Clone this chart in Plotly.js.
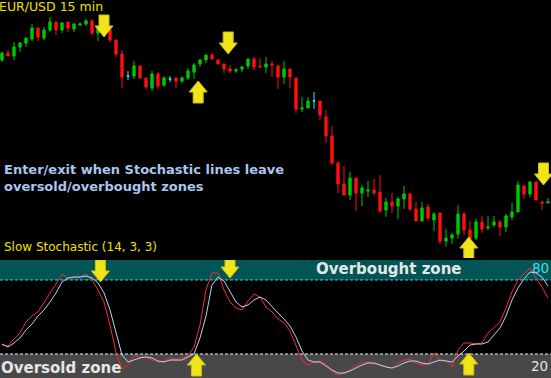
<!DOCTYPE html>
<html>
<head>
<meta charset="utf-8">
<script src="https://cdn.plot.ly/plotly-3.0.1.min.js"></script>
<style>
  html, body { margin: 0; padding: 0; background: #000; }
  #chart { width: 551px; height: 378px; }
</style>
</head>
<body>
<div id="chart"></div>
<script>
// EUR/USD, 15-minute bars
const open = [
  1.3590, 1.3597, 1.3594, 1.3603, 1.3607, 1.3611, 1.3622, 1.3612, 1.3620, 1.3628,
  1.3620, 1.3628, 1.3621, 1.3625, 1.3626, 1.3629, 1.3617, 1.3621, 1.3620, 1.3610,
  1.3596, 1.3574, 1.3574, 1.3584, 1.3572, 1.3562, 1.3576, 1.3565, 1.3571, 1.3572,
  1.3569, 1.3572, 1.3578, 1.3586, 1.3590, 1.3595, 1.3590, 1.3586, 1.3581, 1.3579,
  1.3581, 1.3584, 1.3591, 1.3584, 1.3583, 1.3586, 1.3584, 1.3573, 1.3581, 1.3572,
  1.3541, 1.3542, 1.3549, 1.3549, 1.3533, 1.3514, 1.3487, 1.3466, 1.3455, 1.3472,
  1.3457, 1.3459, 1.3460, 1.3458, 1.3440, 1.3448, 1.3444, 1.3451, 1.3456, 1.3441,
  1.3429, 1.3443, 1.3430, 1.3437, 1.3409, 1.3412, 1.3416, 1.3436, 1.3420, 1.3412,
  1.3428, 1.3422, 1.3425, 1.3428, 1.3423, 1.3433, 1.3438, 1.3464, 1.3456, 1.3468,
  1.3448, 1.3447
];
const high = [
  1.3598, 1.3600, 1.3608, 1.3608, 1.3612, 1.3626, 1.3622, 1.3623, 1.3633, 1.3628,
  1.3628, 1.3628, 1.3627, 1.3628, 1.3631, 1.3631, 1.3623, 1.3624, 1.3620, 1.3610,
  1.3600, 1.3579, 1.3589, 1.3585, 1.3572, 1.3579, 1.3578, 1.3574, 1.3574, 1.3572,
  1.3574, 1.3582, 1.3587, 1.3591, 1.3595, 1.3597, 1.3591, 1.3586, 1.3585, 1.3582,
  1.3584, 1.3591, 1.3593, 1.3592, 1.3593, 1.3589, 1.3585, 1.3589, 1.3581, 1.3572,
  1.3553, 1.3553, 1.3558, 1.3549, 1.3540, 1.3524, 1.3489, 1.3484, 1.3478, 1.3472,
  1.3465, 1.3469, 1.3471, 1.3475, 1.3452, 1.3457, 1.3453, 1.3464, 1.3457, 1.3448,
  1.3448, 1.3446, 1.3438, 1.3437, 1.3421, 1.3417, 1.3445, 1.3438, 1.3429, 1.3431,
  1.3434, 1.3434, 1.3434, 1.3430, 1.3436, 1.3447, 1.3469, 1.3465, 1.3469, 1.3468,
  1.3449, 1.3452
];
const low = [
  1.3588, 1.3594, 1.3590, 1.3598, 1.3603, 1.3609, 1.3609, 1.3610, 1.3618, 1.3615,
  1.3617, 1.3618, 1.3618, 1.3624, 1.3624, 1.3615, 1.3609, 1.3616, 1.3608, 1.3593,
  1.3562, 1.3570, 1.3571, 1.3571, 1.3561, 1.3559, 1.3561, 1.3563, 1.3568, 1.3562,
  1.3567, 1.3570, 1.3571, 1.3583, 1.3587, 1.3591, 1.3586, 1.3577, 1.3577, 1.3577,
  1.3578, 1.3581, 1.3580, 1.3583, 1.3577, 1.3573, 1.3561, 1.3566, 1.3562, 1.3537,
  1.3538, 1.3542, 1.3541, 1.3530, 1.3507, 1.3485, 1.3457, 1.3455, 1.3450, 1.3439,
  1.3444, 1.3453, 1.3455, 1.3437, 1.3433, 1.3437, 1.3431, 1.3441, 1.3439, 1.3429,
  1.3429, 1.3429, 1.3419, 1.3406, 1.3403, 1.3406, 1.3411, 1.3415, 1.3408, 1.3410,
  1.3417, 1.3420, 1.3423, 1.3414, 1.3418, 1.3430, 1.3438, 1.3451, 1.3453, 1.3450,
  1.3440, 1.3447
];
const close = [
  1.3597, 1.3594, 1.3603, 1.3607, 1.3612, 1.3622, 1.3613, 1.3620, 1.3628, 1.3620,
  1.3627, 1.3622, 1.3626, 1.3626, 1.3629, 1.3617, 1.3621, 1.3619, 1.3610, 1.3596,
  1.3573, 1.3574, 1.3584, 1.3572, 1.3563, 1.3576, 1.3564, 1.3572, 1.3571, 1.3569,
  1.3572, 1.3579, 1.3585, 1.3590, 1.3595, 1.3591, 1.3586, 1.3581, 1.3579, 1.3580,
  1.3583, 1.3591, 1.3583, 1.3583, 1.3586, 1.3585, 1.3573, 1.3581, 1.3573, 1.3541,
  1.3542, 1.3549, 1.3549, 1.3535, 1.3514, 1.3487, 1.3466, 1.3455, 1.3472, 1.3457,
  1.3462, 1.3460, 1.3457, 1.3439, 1.3448, 1.3444, 1.3451, 1.3456, 1.3441, 1.3429,
  1.3442, 1.3432, 1.3436, 1.3409, 1.3412, 1.3415, 1.3436, 1.3420, 1.3411, 1.3428,
  1.3421, 1.3423, 1.3428, 1.3423, 1.3434, 1.3438, 1.3465, 1.3456, 1.3468, 1.3450,
  1.3447, 1.3448
];

// Slow Stochastic (14, 3, 3): %K and %D
const stochK = [
  27.3, 26.5, 32.2, 37.0, 45.9, 50.8, 54.1, 61.4, 69.5, 76.8,
  84.9, 81.6, 82.4, 82.4, 84.9, 80.0, 71.9, 62.2, 43.5, 21.6,
  7.8, 11.1, 18.4, 17.6, 17.6, 15.1, 13.5, 14.3, 16.8, 15.9,
  16.8, 18.4, 25.7, 43.5, 71.9, 85.7, 85.7, 71.9, 62.2, 57.3,
  55.7, 63.0, 68.6, 66.2, 58.1, 54.1, 48.4, 45.1, 38.6, 27.3,
  15.1, 11.1, 13.5, 14.3, 11.9, 6.2, 3.0, 4.6, 7.0, 10.3,
  13.5, 13.5, 11.9, 11.1, 9.5, 8.6, 12.7, 15.1, 15.9, 12.7,
  11.1, 11.9, 20.8, 14.3, 15.1, 9.5, 23.2, 28.9, 28.9, 28.1,
  28.9, 37.0, 41.1, 45.9, 57.3, 70.3, 80.0, 84.9, 89.7, 81.6,
  74.3, 65.4
];
const stochD = [
  28.1, 25.7, 28.9, 33.0, 39.5, 44.3, 50.8, 55.7, 62.2, 69.5,
  78.4, 81.6, 82.4, 82.4, 83.2, 81.6, 77.6, 69.5, 55.7, 37.8,
  19.2, 13.5, 15.1, 16.8, 17.6, 16.8, 14.3, 13.5, 15.1, 15.1,
  15.1, 17.6, 20.0, 33.0, 50.8, 76.0, 82.4, 79.2, 70.3, 62.2,
  58.1, 59.7, 63.8, 66.2, 63.8, 58.1, 53.2, 48.4, 42.7, 33.8,
  22.4, 15.1, 13.5, 13.5, 10.3, 7.0, 4.6, 4.6, 6.2, 8.6,
  11.1, 12.7, 12.7, 11.1, 9.5, 8.6, 10.3, 12.7, 14.3, 14.3,
  12.7, 11.9, 13.5, 15.1, 14.3, 13.5, 18.4, 22.4, 27.3, 28.1,
  28.1, 29.7, 35.4, 41.1, 50.8, 63.8, 73.5, 80.8, 86.5, 85.7,
  82.4, 75.1
];

const overbought = 80;
const oversold = 20;

const bars = open.map((_, i) => i);
const isDoji = i => open[i] === close[i];
const pick = (arr, idx) => idx.map(i => arr[i]);
const bodyIdx = bars.filter(i => !isDoji(i));
const dojiIdx = bars.filter(isDoji);

const GREEN = '#00c800', RED = '#ff1010', CYAN = '#30e8f0';

const candles = {
  type: 'candlestick', xaxis: 'x', yaxis: 'y',
  x: bodyIdx, open: pick(open, bodyIdx), high: pick(high, bodyIdx),
  low: pick(low, bodyIdx), close: pick(close, bodyIdx),
  increasing: { line: { color: GREEN, width: 1 }, fillcolor: GREEN },
  decreasing: { line: { color: RED, width: 1 }, fillcolor: RED },
  hoverinfo: 'skip'
};
const dojis = {
  type: 'candlestick', xaxis: 'x', yaxis: 'y',
  x: dojiIdx, open: pick(open, dojiIdx), high: pick(high, dojiIdx),
  low: pick(low, dojiIdx), close: pick(close, dojiIdx),
  increasing: { line: { color: CYAN, width: 1 }, fillcolor: CYAN },
  decreasing: { line: { color: CYAN, width: 1 }, fillcolor: CYAN },
  hoverinfo: 'skip'
};
const kLine = {
  type: 'scatter', mode: 'lines', xaxis: 'x2', yaxis: 'y2',
  x: bars, y: stochK, line: { color: '#ff2828', width: 1 }, hoverinfo: 'skip'
};
const dLine = {
  type: 'scatter', mode: 'lines', xaxis: 'x2', yaxis: 'y2',
  x: bars, y: stochD, line: { color: '#b4d4f4', width: 1 }, hoverinfo: 'skip'
};

// signal arrows, drawn in pixels around an anchor at the arrow tip
const ARROW_DOWN = 'M-5,22 L5,22 L5,11 L9,11 L0,0 L-9,11 L-5,11 Z';
const ARROW_UP = 'M-5,-22 L5,-22 L5,-11 L9,-11 L0,0 L-9,-11 L-5,-11 Z';
function arrow(dir, xr, yr, xa, ya) {
  return {
    type: 'path', layer: 'above', xref: xr, yref: yr,
    xsizemode: 'pixel', ysizemode: 'pixel', xanchor: xa, yanchor: ya,
    path: dir === 'down' ? ARROW_DOWN : ARROW_UP,
    fillcolor: '#f2e41a', line: { color: '#cdbf10', width: 1 }
  };
}

const W = 551, H = 378;
const px = x => x / W;
const py = y => 1 - y / H;
const FONT = 'DejaVu Sans';

function label(text, x, y, opts) {
  return Object.assign({
    text: text, xref: 'paper', yref: 'paper', x: px(x), y: py(y),
    xanchor: 'left', yanchor: 'middle', showarrow: false, align: 'left',
    font: { family: FONT, size: 12, color: '#f0e000' }
  }, opts || {});
}

const layout = {
  width: W, height: H,
  margin: { l: 0, r: 0, t: 0, b: 0 },
  paper_bgcolor: '#000', plot_bgcolor: '#000',
  showlegend: false, boxgap: 0.45,
  xaxis: { domain: [0, 1], range: [-1 / 3, 91.5], visible: false,
           rangeslider: { visible: false }, anchor: 'y' },
  yaxis: { domain: [1 - 258 / H, 1], range: [1.3392, 1.3650], visible: false, anchor: 'x' },
  xaxis2: { domain: [0, 1], range: [-1 / 3, 91.5], visible: false, anchor: 'y2' },
  yaxis2: { domain: [0, 118 / H], range: [0.54, 96.2], visible: false, anchor: 'x2' },
  shapes: [
    { type: 'rect', layer: 'below', xref: 'paper', yref: 'y2', x0: 0, x1: 1,
      y0: overbought, y1: 96.2, fillcolor: '#035454', line: { width: 0 } },
    { type: 'rect', layer: 'below', xref: 'paper', yref: 'y2', x0: 0, x1: 1,
      y0: 0.54, y1: oversold, fillcolor: '#484848', line: { width: 0 } },
    { type: 'line', layer: 'below', xref: 'paper', yref: 'y2', x0: 0, x1: 1,
      y0: overbought, y1: overbought, line: { color: '#3ad8e0', width: 1, dash: '3px,2px' } },
    { type: 'line', layer: 'below', xref: 'paper', yref: 'y2', x0: 0, x1: 1,
      y0: oversold, y1: oversold, line: { color: '#f0f0f0', width: 1, dash: '3px,2px' } },
    arrow('down', 'x', 'y', 17, 1.3613),
    arrow('up', 'x', 'y', 32.7, 1.3569),
    arrow('down', 'x', 'y', 37.7, 1.3596),
    arrow('up', 'x', 'y', 77.8, 1.3413),
    arrow('down', 'x', 'y', 90.25, 1.3465),
    arrow('down', 'x2', 'y2', 16.4, 78.4),
    arrow('up', 'x2', 'y2', 32.4, oversold),
    arrow('down', 'x2', 'y2', 38, 81.6),
    arrow('up', 'x2', 'y2', 77.8, 20.8)
  ],
  annotations: [
    label('EUR/USD 15 min', -3, 7, { font: { family: FONT, size: 12.5, color: '#f0e000' } }),
    label('Slow Stochastic (14, 3, 3)', 2, 247),
    label('Enter/exit when Stochastic lines leave<br>oversold/overbought zones', 2, 178,
      { font: { family: FONT, size: 13, color: '#a8c6ee', weight: 'bold' } }),
    label('Overbought zone', 314, 269,
      { font: { family: FONT, size: 15, color: '#e6e6e6', weight: 'bold' } }),
    label('Oversold zone', -1, 368,
      { font: { family: FONT, size: 15, color: '#e6e6e6', weight: 'bold' } }),
    label('80', 530, 268, { font: { family: FONT, size: 13.5, color: '#3ee0e8' } }),
    label('20', 529, 366, { font: { family: FONT, size: 13.5, color: '#e6e6e6' } })
  ]
};

Plotly.newPlot('chart', [candles, dojis, kLine, dLine], layout,
  { staticPlot: true, displayModeBar: false });
</script>
</body>
</html>
